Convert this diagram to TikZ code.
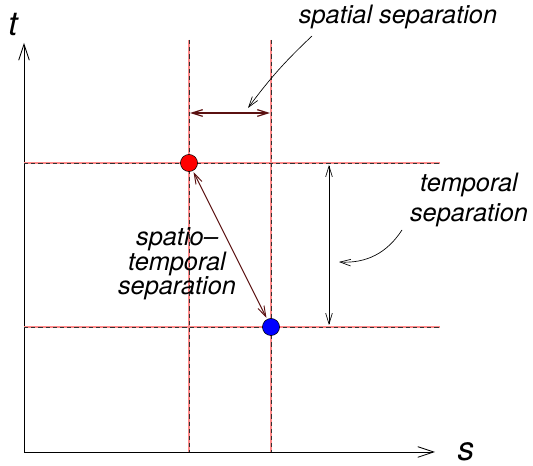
\documentclass[tikz,border=0pt]{standalone}
\usepackage{fontspec}
\setmainfont{TeX Gyre Heros}
\usetikzlibrary{arrows.meta}
\definecolor{GridRed}{HTML}{FF8A8A}
\definecolor{ShaftRed}{HTML}{5A1010}

\begin{document}
\begin{tikzpicture}[x=0.75pt,y=-0.75pt]
    \tikzset{
      gridline/.style={draw=black!80,line width=0.6pt,dash pattern=on 3.2pt off 2.2pt,
        preaction={draw=GridRed,line width=1.5pt,solid}},
      axis/.style={line width=0.6pt,-{Straight Barb[length=12pt,width=8pt]}},
      sep/.style={line width=0.5pt,{Straight Barb[length=8pt,width=5pt]}-{Straight Barb[length=8pt,width=5pt]}},
      pointer/.style={line width=0.5pt,-{Straight Barb[length=8pt,width=5pt]}},
      event/.style={circle,draw=black,line width=0.4pt,minimum size=12.8pt,inner sep=0pt},
      lbl/.style={font=\fontsize{19}{22}\selectfont\itshape,align=center,inner sep=0pt},
      axlbl/.style={font=\fontsize{25}{28}\selectfont\itshape,inner sep=0pt}
    }
    \useasboundingbox (0,0) rectangle (533,466);
    % axes
    \coordinate (O) at (24,452);
    \coordinate (tTip) at (24,43);
    \coordinate (sTip) at (435,452);
    \draw[axis] (O) -- (tTip);
    \draw[axis] (O) -- (sTip);
    \node[axlbl] (tLab) at (13,24) {t};
    \node[axlbl] (sLab) at (466,452) {s};
    % grid through the two events
    \coordinate (xAtop) at (189,40);  \coordinate (xAbot) at (189,452);
    \coordinate (xBtop) at (271,40);  \coordinate (xBbot) at (271,452);
    \coordinate (tAleft) at (24,163); \coordinate (tAright) at (440,163);
    \coordinate (tBleft) at (24,327); \coordinate (tBright) at (440,327);
    \draw[gridline] (xAtop) -- (xAbot);
    \draw[gridline] (xBtop) -- (xBbot);
    \draw[gridline] (tAleft) -- (tAright);
    \draw[gridline] (tBleft) -- (tBright);
    % events
    \node[event,fill=red] (evA) at (189,163) {};
    \node[event,fill=blue] (evB) at (271,327) {};
    % spatial separation
    \coordinate (spL) at (190,113);
    \coordinate (spR) at (270,113);
    \draw[sep,draw=ShaftRed,line width=0.9pt] (spL) -- (spR);
    \node[lbl] (spatLab) at (398,17) {spatial separation};
    \coordinate (spFrom) at (312,36);
    \coordinate (spTo) at (248,108);
    \draw[pointer] (spFrom) to[bend right=5] (spTo);
    % temporal separation
    \coordinate (tpTop) at (329,165);
    \coordinate (tpBot) at (329,325);
    \draw[sep] (tpTop) -- (tpBot);
    \node[lbl,font=\fontsize{19}{22.5}\selectfont\itshape] (tempLab) at (469,200) {temporal\\separation};
    \coordinate (tpFrom) at (402,230);
    \coordinate (tpTo) at (339,262);
    \draw[pointer] (tpFrom) to[bend left=30] (tpTo);
    % spatio-temporal separation
    \draw[sep,draw=ShaftRed,line width=0.7pt,shorten <=1pt,shorten >=1pt] (evA) -- (evB);
    \node[lbl,font=\fontsize{19}{18.4}\selectfont\itshape] (stLab) at (177,264) {spatio--\\temporal\\separation};
\end{tikzpicture}
\end{document}
